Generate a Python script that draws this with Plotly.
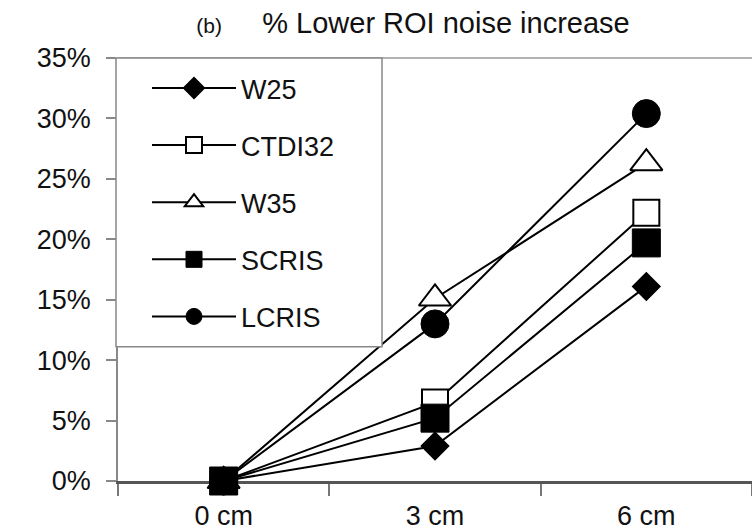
import plotly.graph_objects as go

categories = ["0 cm", "3 cm", "6 cm"]
series_names = ["W25", "CTDI32", "W35", "SCRIS", "LCRIS"]
w25 = [0.0, 2.9, 16.1]
ctdi32 = [0.0, 6.5, 22.2]
w35 = [0.0, 15.1, 26.3]
scris = [0.0, 5.2, 19.7]
lcris = [0.0, 13.0, 30.4]
y_tick_vals = [0, 5, 10, 15, 20, 25, 30, 35]
y_tick_text = ["0%", "5%", "10%", "15%", "20%", "25%", "30%", "35%"]

values = [w25, ctdi32, w35, scris, lcris]
styles = [
    dict(symbol="diamond", size=21, color="black", line=dict(color="black", width=1.5)),
    dict(symbol="square", size=26, color="white", line=dict(color="black", width=2)),
    dict(symbol="triangle-up", size=28, color="white", line=dict(color="black", width=2)),
    dict(symbol="square", size=28, color="black", line=dict(color="black", width=1)),
    dict(symbol="circle", size=28, color="black", line=dict(color="black", width=1)),
]
# drawing order: filled square last so it sits on top at 0 cm (legend keeps original order)
draw_order = [0, 1, 2, 4, 3]

FONT = "Liberation Sans, Arial, sans-serif"

fig = go.Figure()
for i in draw_order:
    fig.add_trace(go.Scatter(
        x=categories, y=values[i], name=series_names[i], mode="lines+markers",
        line=dict(color="black", width=2),
        marker=styles[i], legendgroup=series_names[i], legendrank=i + 1,
        cliponaxis=False,
    ))

W, H = 752, 531
L, R, T, B = 118, 0, 58, 48
pw, ph = W - L - R, H - T - B

def px_x(x):
    return (x - L) / pw

def px_y(y):
    return (H - B - y) / ph

fig.add_shape(type="rect", xref="paper", yref="paper",
              x0=px_x(116), x1=px_x(382), y0=px_y(348), y1=1,
              line=dict(color="#888888", width=1.5), fillcolor="white", layer="above")

fig.add_shape(type="line", xref="paper", yref="paper", x0=0, x1=1, y0=1, y1=1,
              line=dict(color="#999999", width=1.5), layer="below")

fig.update_layout(
    width=W, height=H,
    margin=dict(l=L, r=R, t=T, b=B),
    paper_bgcolor="white", plot_bgcolor="white",
    font=dict(family=FONT, size=27, color="#111111"),
    title=dict(
        text="<span style='font-size:21px'>(b)</span>     % Lower ROI noise increase",
        x=413 / W, xref="container", xanchor="center",
        y=1 - 23 / H, yref="container", yanchor="middle",
        font=dict(family=FONT, size=29, color="#111111"),
    ),
    showlegend=True,
    legend=dict(
        x=px_x(147), y=px_y(64), xref="paper", yref="paper",
        xanchor="left", yanchor="top",
        bgcolor="rgba(0,0,0,0)", borderwidth=0,
        font=dict(family=FONT, size=27, color="#111111"),
        itemwidth=84, tracegroupgap=19, traceorder="grouped",
    ),
    xaxis=dict(
        type="category", range=[-0.5, 2.5],
        showline=True, linecolor="#555555", linewidth=2.5,
        mirror=False, showgrid=False, zeroline=False, layer="below traces",
        ticks="outside", tickson="boundaries", ticklen=12, tickcolor="#777777", tickwidth=1.5,
        tickfont=dict(family=FONT, size=27, color="#111111"),
        ticklabelstandoff=9,
    ),
    yaxis=dict(
        range=[0, 35], tickvals=y_tick_vals, ticktext=y_tick_text,
        showline=True, linecolor="#888888", linewidth=1.5,
        showgrid=False, zeroline=False, layer="below traces",
        ticks="outside", ticklen=10, tickcolor="#888888", tickwidth=1.5,
        tickfont=dict(family=FONT, size=27, color="#111111"),
        ticklabelstandoff=10,
    ),
)

fig.write_html("out.html")
